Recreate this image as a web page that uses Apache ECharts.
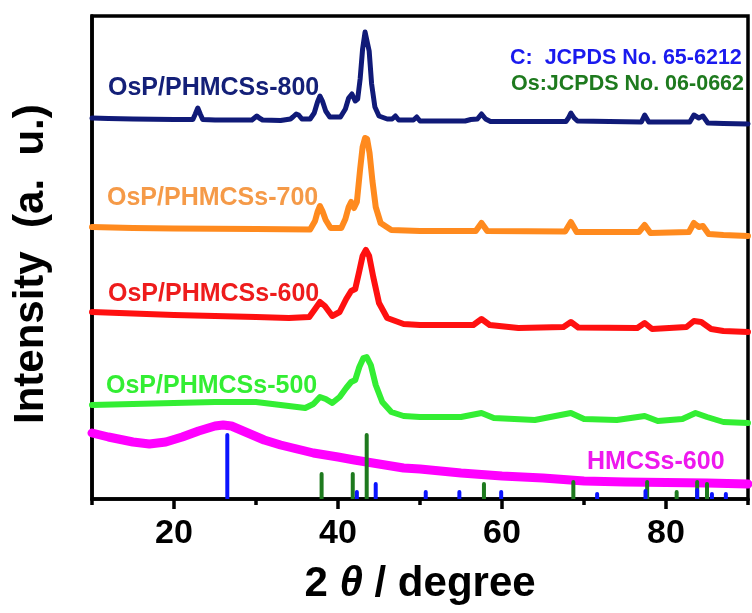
<!DOCTYPE html>
<html>
<head>
<meta charset="utf-8">
<script src="https://cdn.jsdelivr.net/npm/echarts@6/dist/echarts.min.js"></script>
<style>html,body{margin:0;padding:0;background:#fff}#c{width:752px;height:613px}</style>
</head>
<body>
<div id="c"></div>
<script>
// x: 2θ (degree), y: intensity (a.u., arbitrary offset units)
const xTickLabels = [20, 40, 60, 80];
const xMinorTicks = [10, 30, 50, 70, 90];

const s800 = [[10,381],[12,380.5],[15,380],[20,379.5],[22.3,379.5],[22.6,385],[22.9,391],[23.2,385],[23.5,379.5],[25,379],[29.5,379],[29.8,381],[30.1,383],[30.4,381],[30.8,379],[33,378.5],[34.2,380],[34.5,382],[34.9,385],[35.2,384],[35.6,380],[36.6,380],[37.1,386],[37.5,397],[37.8,403],[38.1,398],[38.5,388],[39,382],[40.3,382],[40.9,390],[41.3,401],[41.7,405],[42.1,398],[42.4,400],[42.7,420],[43.0,450],[43.3,467],[43.5,467],[43.8,448],[44.1,415],[44.5,392],[45.0,383],[46.0,380],[46.6,380],[47.0,383],[47.4,379],[49.2,379],[49.6,382],[50.0,378],[55.5,378],[56.2,379.5],[57.0,380],[57.5,385],[58.0,380],[58.6,377.5],[67.8,377.5],[68.1,381],[68.4,386],[68.8,381],[69.2,378],[77.0,377],[77.4,384],[77.9,377],[82.9,377],[83.4,384],[84.0,381],[84.5,383],[85.1,376],[87,375.5],[90,375]];

const s700 = [[10,272],[15,271],[20,270.5],[30,270],[36.6,269.5],[37.2,278],[37.5,287],[37.8,293],[38.1,288],[38.5,279],[39.1,271],[40.4,271],[40.9,280],[41.3,292],[41.6,297],[41.95,291],[42.3,297],[42.7,330],[43.0,352],[43.3,361],[43.55,360],[43.85,346],[44.2,318],[44.6,292],[45.2,276],[46.5,269],[50,268],[56.8,268],[57.5,276],[58.2,268],[67.7,267.5],[68.4,277],[69.1,267],[76.7,267],[77.4,274],[78.1,266],[82.8,267],[83.4,276],[84.0,272],[84.5,273],[85.2,265],[87,264],[90,263]];

const s600 = [[10,187],[15,185.5],[20,184],[25,183],[30,182],[34,181],[36.5,182],[37.2,190],[37.8,197],[38.4,193],[39.3,183],[40.2,187],[41.0,200],[41.6,208],[42.1,210],[42.6,228],[43.0,243],[43.4,249],[43.8,243],[44.3,222],[45.0,196],[46,181],[48,175],[50,174],[56.5,174],[57.5,180],[58.5,174],[62,171],[67.5,172],[68.4,177],[69.3,171.5],[76.5,171],[77.4,176],[78.3,170],[82.5,172],[83.4,178],[84.3,177],[85.5,170],[87,168],[90,167]];

const s500 = [[10,94],[15,95],[20,96],[25,97],[30,97],[33,94],[36,91],[37.0,95],[37.8,102],[38.5,100],[39.3,96],[40.2,102],[41.0,111],[41.6,117],[42.1,119],[42.6,132],[43.1,141],[43.5,142],[44.0,134],[44.6,114],[45.4,97],[46.5,87],[48,83],[50,82],[55,82],[57.5,86],[59,81],[64,79],[68.4,86],[70,80],[74,79],[77.4,83],[79,78],[82,80],[83.6,86],[85,82],[87,77],[90,76]];

const sHMCS = [[10,66],[12,62],[15,57],[17,55],[19,57],[21,62],[23,68],[25,73],[26,74],[27,73],[29,66],[31,59],[33,54],[35,50],[37,46],[40,42],[42,39],[43.5,37],[45,35],[48,31],[50,30],[55,26],[60,23],[65,21],[70,18],[75,17],[80,16.5],[85,16],[90,15]];

const sticksC = [[26.5,66],[42.3,9],[44.6,17],[50.7,9],[54.8,9],[59.9,9],[71.6,7],[77.5,10],[83.8,11],[85.6,7],[87.3,7]];
const sticksOs = [[38.0,27],[41.8,27],[43.5,66],[57.8,17],[68.7,19],[77.7,19],[81.3,9],[83.8,19],[85.0,17]];

const seriesNames = ['OsP/PHMCSs-800','OsP/PHMCSs-700','OsP/PHMCSs-600','OsP/PHMCSs-500','HMCSs-600'];
const refNames = ['C:  JCPDS No. 65-6212','Os:JCPDS No. 06-0662'];

const FF = '"Liberation Sans", Arial, sans-serif';
const chart = echarts.init(document.getElementById('c'), null, {renderer:'canvas'});

function lineSeries(name, data, color, width) {
  return {name, type:'line', data, showSymbol:false, symbol:'none', smooth:false,
    lineStyle:{color, width, cap:'round', join:'round'}, z:2, silent:true, animation:false};
}

function lbl(text, x, y, color, size) {
  return {type:'text', x, y, z:100, style:{text, font:'bold '+size+'px '+FF, fill:color, textAlign:'left', textVerticalAlign:'middle'}};
}

chart.setOption({
  animation:false,
  backgroundColor:'#fff',
  grid:{left:92, right:4, top:16, bottom:114, show:true, borderColor:'#000', borderWidth:3.5, backgroundColor:'transparent'},
  xAxis:[{
    type:'value', min:10, max:90, interval:10,
    axisLine:{show:true, lineStyle:{color:'#000', width:3.5}},
    axisTick:{show:true, customValues:xTickLabels, length:10, lineStyle:{color:'#000', width:3.5}},
    axisLabel:{show:true, customValues:xTickLabels, margin:18, color:'#000', fontFamily:FF, fontWeight:'bold', fontSize:34},
    splitLine:{show:false},
    name:'{n|2 }{t|θ}{n| / degree}', nameLocation:'middle', nameGap:64,
    nameTextStyle:{rich:{
      n:{fontFamily:FF, fontWeight:'bold', fontSize:42, color:'#000'},
      t:{fontFamily:FF, fontWeight:'bold', fontStyle:'italic', fontSize:42, color:'#000'}
    }}
  },{
    type:'value', min:10, max:90, interval:10, position:'bottom',
    axisLine:{show:false},
    axisTick:{show:true, customValues:xMinorTicks, length:6, lineStyle:{color:'#000', width:3.5}},
    axisLabel:{show:false}, splitLine:{show:false}
  }],
  yAxis:{type:'value', min:0, max:483, axisLine:{show:true, lineStyle:{color:'#000', width:3.5}}, axisTick:{show:false}, axisLabel:{show:false}, splitLine:{show:false}},
  series:[
    lineSeries(seriesNames[4], sHMCS, '#ff00ff', 9),
    lineSeries(seriesNames[3], s500, '#33ee33', 6),
    lineSeries(seriesNames[2], s600, '#ff1010', 6),
    lineSeries(seriesNames[1], s700, '#ff8a1e', 6),
    lineSeries(seriesNames[0], s800, '#101a78', 5),
    {name:refNames[1], type:'bar', data:sticksOs, barWidth:4, barGap:'-100%', z:5, silent:true, itemStyle:{color:'#1e7a1e', borderRadius:[2,2,0,0]}},
    {name:refNames[0], type:'bar', data:sticksC, barWidth:4, barGap:'-100%', z:6, silent:true, itemStyle:{color:'#0a14ff', borderRadius:[2,2,0,0]}}
  ],
  graphic:[
    {type:'text', x:31, y:424, rotation:Math.PI/2, z:100, style:{text:'Intensity  (a.  u.)', font:'bold 42px '+FF, fill:'#000', textAlign:'left', textVerticalAlign:'middle'}},
    lbl(seriesNames[0], 108, 88, '#142078', 25),
    lbl(seriesNames[1], 107, 198, '#f59a48', 25),
    lbl(seriesNames[2], 108, 294, '#ee1c1c', 25),
    lbl(seriesNames[3], 106, 386, '#33ee33', 25),
    lbl(seriesNames[4], 587, 462, '#ee18ee', 25),
    lbl(refNames[0], 510, 58, '#1a1aee', 21.5),
    lbl(refNames[1], 511, 84, '#1e7a1e', 21.5)
  ]
});
</script>
</body>
</html>
